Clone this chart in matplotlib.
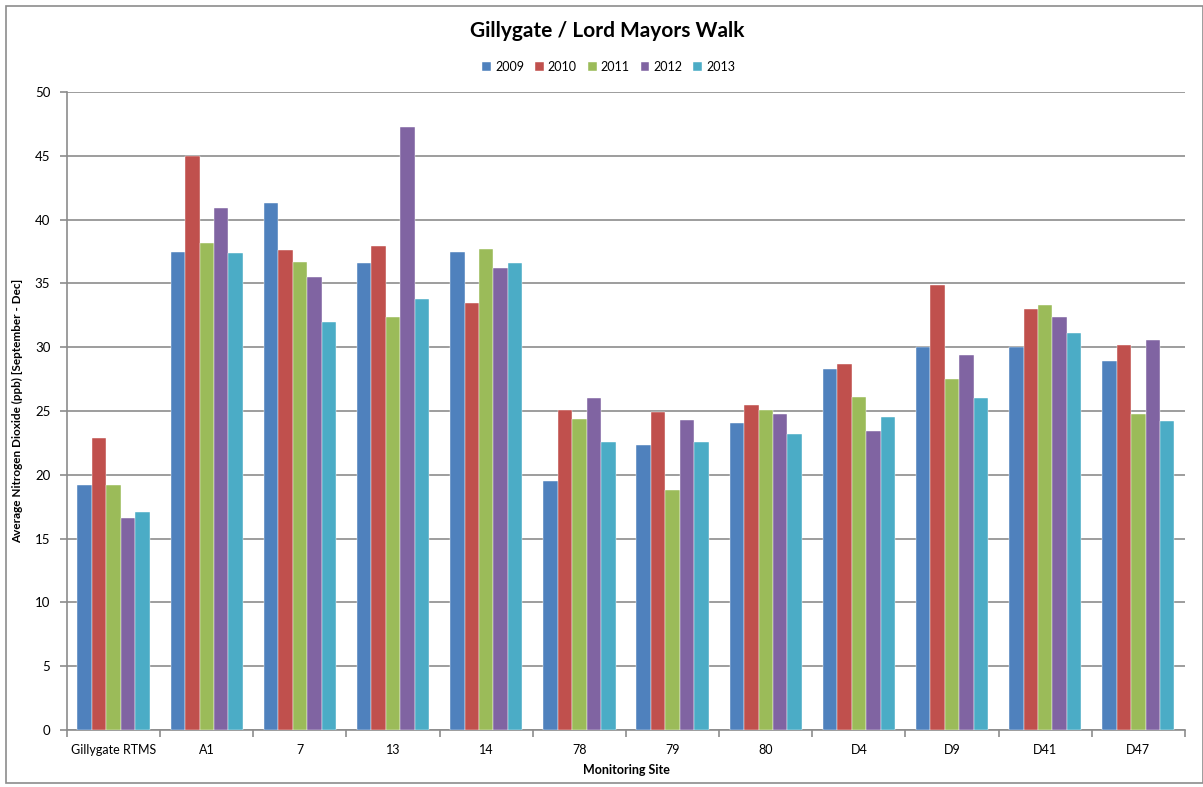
import matplotlib
import matplotlib.pyplot as plt
import numpy as np
from matplotlib.patches import Rectangle

plt.rcParams['font.family'] = ['Lato', 'DejaVu Sans']

sites = ['Gillygate RTMS', 'A1', '7', '13', '14', '78', '79', '80', 'D4', 'D9', 'D41', 'D47']
years = ['2009', '2010', '2011', '2012', '2013']
y2009 = [19.2, 37.5, 41.3, 36.6, 37.5, 19.5, 22.3, 24.1, 28.3, 30.0, 30.0, 28.9]
y2010 = [22.9, 45.0, 37.6, 37.9, 33.5, 25.1, 24.9, 25.5, 28.7, 34.9, 33.0, 30.2]
y2011 = [19.2, 38.2, 36.7, 32.4, 37.7, 24.4, 18.8, 25.1, 26.1, 27.5, 33.3, 24.8]
y2012 = [16.6, 40.9, 35.5, 47.3, 36.2, 26.0, 24.3, 24.8, 23.4, 29.4, 32.4, 30.6]
y2013 = [17.1, 37.4, 32.0, 33.8, 36.6, 22.6, 22.6, 23.2, 24.5, 26.0, 31.1, 24.2]
series = [y2009, y2010, y2011, y2012, y2013]
colors = ['#4F81BD', '#C0504D', '#9BBB59', '#8064A2', '#4BACC6']

fig = plt.figure(figsize=(12.03, 7.87), dpi=100)
fig.patches.append(Rectangle((0.005, 0.005), 0.995, 0.988, transform=fig.transFigure,
                             fill=False, edgecolor='#8c8c8c', linewidth=1.2))
ax = fig.add_axes([0.0557, 0.0724, 0.9293, 0.8106])

x = np.arange(len(sites))
w = 0.155
for i, (vals, c) in enumerate(zip(series, colors)):
    ax.bar(x + (i - 2) * w, vals, width=w, color=c, label=years[i], zorder=3,
           edgecolor='white', linewidth=0.3)

ax.set_xlim(-0.5, len(sites) - 0.5)
ax.set_ylim(0, 50)
ax.set_yticks(np.arange(0, 51, 5))
ax.grid(axis='y', color='#8c8c8c', linewidth=1.2, zorder=0)

ax.set_xticks(np.arange(-0.5, len(sites), 1.0))
ax.set_xticklabels([])
ax.set_xticks(x, minor=True)
ax.set_xticklabels(sites, minor=True)
ax.tick_params(axis='x', which='major', length=5, color='#8c8c8c', width=1.2)
ax.tick_params(axis='x', which='minor', length=0, pad=10, labelsize=9)
ax.tick_params(axis='y', length=5, color='#8c8c8c', width=1.2, labelsize=9.5, pad=7)

for s in ['top', 'right']:
    ax.spines[s].set_visible(False)
for s in ['left', 'bottom']:
    ax.spines[s].set_color('#8c8c8c')
    ax.spines[s].set_linewidth(1.2)

ax.set_xlabel('Monitoring Site', fontsize=9, fontweight='bold', labelpad=6)
ax.set_ylabel('Average Nitrogen Dioxide (ppb) [September - Dec]', fontsize=8.5,
              fontweight='bold')
ax.yaxis.set_label_coords(-0.039, 0.5)

fig.text(0.505, 0.96, 'Gillygate / Lord Mayors Walk', ha='center', va='center',
         fontsize=15, fontweight='bold')
fig.legend(loc='center', bbox_to_anchor=(0.506, 0.915), ncol=5, frameon=False,
           fontsize=9, handlelength=0.7, handleheight=0.7, handletextpad=0.3,
           columnspacing=0.9)

fig.savefig('out.png', dpi=100)
